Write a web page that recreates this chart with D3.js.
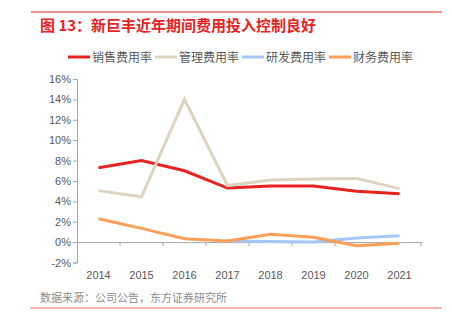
<!DOCTYPE html>
<html>
<head>
<meta charset="utf-8">
<script src="https://cdn.jsdelivr.net/npm/d3@7"></script>
<style>
  body { margin: 0; background: #fff; }
  svg { font-family: "Noto Sans CJK SC", "Liberation Sans", Arial, sans-serif; }
</style>
</head>
<body>
<div id="chart"></div>
<script>
const w = 452;
const h = 327;

// data
const years = ["2014", "2015", "2016", "2017", "2018", "2019", "2020", "2021"];
const sales = [7.3, 8.0, 7.0, 5.3, 5.5, 5.5, 5.0, 4.75];
const admin = [5.05, 4.45, 14.0, 5.55, 6.1, 6.2, 6.25, 5.25];
const rnd = [null, null, null, 0.1, 0.07, 0.02, 0.4, 0.62];
const finance = [2.3, 1.35, 0.33, 0.1, 0.78, 0.48, -0.36, -0.12];
const yTicks = [-2, 0, 2, 4, 6, 8, 10, 12, 14, 16];

const series = [
  { name: "销售费用率", values: sales, color: "#e8231f" },
  { name: "管理费用率", values: admin, color: "#ddd4c0" },
  { name: "研发费用率", values: rnd, color: "#a4c6f8" },
  { name: "财务费用率", values: finance, color: "#fb9e5a" }
];

const svg = d3.select("#chart")
  .append("svg")
  .attr("width", w)
  .attr("height", h);

// top and bottom rules
svg.append("line")
  .attr("x1", 31).attr("x2", 442).attr("y1", 12).attr("y2", 12)
  .attr("stroke", "#e8231f").attr("stroke-width", 1);
svg.append("line")
  .attr("x1", 30).attr("x2", 442).attr("y1", 308).attr("y2", 308)
  .attr("stroke", "#f06a64").attr("stroke-width", 1);

svg.append("text")
  .attr("x", 40).attr("y", 31)
  .attr("fill", "#e8231f")
  .attr("font-size", 15)
  .attr("font-weight", "bold")
  .text("图 13：新巨丰近年期间费用投入控制良好");

svg.append("text")
  .attr("x", 40).attr("y", 302)
  .attr("fill", "#8c8c8c")
  .attr("font-size", 11)
  .text("数据来源：公司公告，东方证券研究所");

// legend
const legendX = [68, 155, 242, 329];
const legend = svg.selectAll(".legend")
  .data(series)
  .enter()
  .append("g")
  .attr("transform", (d, i) => `translate(${legendX[i]},57)`);
legend.append("line")
  .attr("x1", 0).attr("x2", 22)
  .attr("stroke", d => d.color)
  .attr("stroke-width", 3);
legend.append("text")
  .attr("x", 24).attr("y", 4.5)
  .attr("font-size", 12)
  .attr("fill", "#595959")
  .text(d => d.name);

// scales
const x = d3.scaleBand()
  .domain(years)
  .range([77, 421]);

const y = d3.scaleLinear()
  .domain([-2, 16])
  .range([262.5, 79]);

// y axis
const yAxis = svg.append("g")
  .attr("transform", "translate(77,0)")
  .call(d3.axisLeft(y).tickValues(yTicks).tickSize(4).tickFormat(d => d + "%"));
yAxis.select(".domain").attr("stroke", "#a6a6a6");
yAxis.selectAll(".tick line").attr("stroke", "#a6a6a6");
yAxis.selectAll("text")
  .attr("fill", "#595959")
  .attr("font-size", 11)
  .attr("font-family", "Liberation Sans, Arial, sans-serif")
  .attr("x", -6);

// x axis at zero
const xAxis = svg.append("g")
  .attr("transform", `translate(0,${y(0)})`)
  .call(d3.axisBottom(x).tickSize(0).tickPadding(0));
xAxis.select(".domain").attr("stroke", "#a6a6a6");
xAxis.selectAll("text")
  .attr("fill", "#595959")
  .attr("font-size", 11)
  .attr("font-family", "Liberation Sans, Arial, sans-serif")
  .attr("dy", 0)
  .attr("y", 37);

// band boundary ticks below the zero line
const bounds = years.map(d => x(d)).concat([x.range()[1]]).slice(1);
svg.selectAll(".bound")
  .data(bounds)
  .enter()
  .append("line")
  .attr("x1", d => d).attr("x2", d => d)
  .attr("y1", y(0)).attr("y2", y(0) + 4)
  .attr("stroke", "#a6a6a6");

// lines
const line = d3.line()
  .defined(d => d.v !== null)
  .x(d => x(d.year) + x.bandwidth() / 2)
  .y(d => y(d.v));

svg.selectAll(".series")
  .data(series)
  .enter()
  .append("path")
  .attr("fill", "none")
  .attr("stroke", d => d.color)
  .attr("stroke-width", 3)
  .attr("d", d => line(d.values.map((v, i) => ({ year: years[i], v: v }))));
</script>
</body>
</html>
